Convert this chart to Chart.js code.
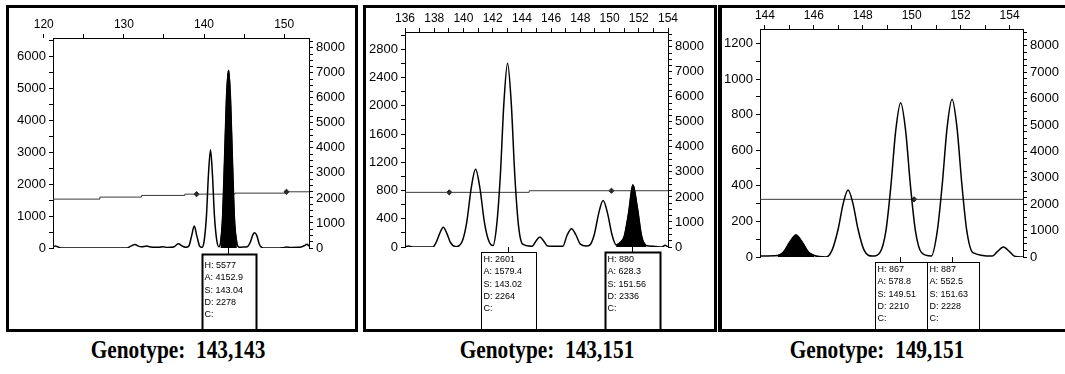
<!DOCTYPE html>
<html>
<head>
<meta charset="utf-8">
<script src="https://cdn.jsdelivr.net/npm/chart.js@4.4.0/dist/chart.umd.min.js"></script>
<style>
  html, body { margin: 0; padding: 0; background: #fff; width: 1065px; height: 374px; overflow: hidden; }
  .panel { position: absolute; top: 5px; height: 327px; border: 3px solid #000; box-sizing: border-box; background: #fff; }
  .panel canvas { display: block; }
  .caption { position: absolute; top: 335px; font-family: "Liberation Serif", "Times New Roman", serif; font-weight: bold;
             font-size: 26px; white-space: nowrap; color: #000; transform: translateX(-50%) scaleX(0.82); }
</style>
</head>
<body>
<div class="panel" style="left:6px;width:352px;"><canvas id="c1" width="346" height="321"></canvas></div>
<div class="panel" style="left:363px;width:354px;"><canvas id="c2" width="348" height="321"></canvas></div>
<div class="panel" style="left:718px;width:352px;border-left-width:4px;"><canvas id="c3" width="345" height="321"></canvas></div>
<div class="caption" style="left:178px;">Genotype:&nbsp; 143,143</div>
<div class="caption" style="left:547px;">Genotype:&nbsp; 143,151</div>
<div class="caption" style="left:877px;">Genotype:&nbsp; 149,151</div>

<script>
// ---- panel 1 : genotype 143,143 ----
const p1Size = [121.15, 121.45, 121.8, 122.3, 130.3, 130.8, 131.38, 131.8, 132.2, 132.84,
  133.3, 134.3, 134.91, 135.4, 136.2, 136.78, 137.3, 137.7, 138.1, 138.45,
  138.78, 139.1, 139.45, 139.75, 140.0, 140.3, 140.55, 140.81, 141.05, 141.3,
  141.6, 141.85, 142.05, 142.3, 142.55, 142.8, 143.06, 143.3, 143.55, 143.8,
  144.1, 144.4, 144.8, 145.4, 145.8, 146.1, 146.34, 146.6, 146.9, 147.2,
  147.6, 149.8, 150.3, 150.8, 151.9, 152.5, 152.85, 153.1];
const p1Rfu = [30, 60, 30, 0, 0, 50, 110, 60, 40, 60,
  30, 20, 40, 15, 30, 130, 60, 20, 60, 380,
  690, 380, 60, 20, 200, 1000, 2300, 3080, 2300, 1000,
  220, 40, 150, 900, 2700, 4700, 5577, 4700, 2700, 900,
  150, 20, 30, 40, 200, 420, 480, 380, 120, 20,
  0, 10, 30, 15, 20, 70, 120, 60];
const p1Fill = [142.05, 144.1];
const p1ThreshSize = [121.15, 127.0, 132.2, 137.6, 143.85, 150.3, 153.1];
const p1ThreshRfu = [1534, 1597, 1649, 1690, 1722, 1764, 1764];
const p1MarkSize = [139.07, 150.29];
const p1MarkRfu = [1690, 1764];
const p1XTicks = [120, 125, 130, 135, 140, 145, 150];
const p1LeftLabels = [0, 1000, 2000, 3000, 4000, 5000, 6000];
const p1RightLabels = [0, 1000, 2000, 3000, 4000, 5000, 6000, 7000, 8000];
const p1CallSize = [143.04];
const p1CallText = [['H: 5577', 'A: 4152.9', 'S: 143.04', 'D: 2278', 'C:']];

// ---- panel 2 : genotype 143,151 ----
const p2Size = [136.0, 136.25, 136.5, 137.9, 138.12, 138.37, 138.62, 138.87, 139.12, 139.5,
  139.93, 140.23, 140.53, 140.83, 141.13, 141.43, 141.73, 142.02, 142.27, 142.52,
  142.77, 143.02, 143.27, 143.52, 143.77, 144.05, 144.7, 144.98, 145.23, 145.48,
  145.75, 146.8, 147.1, 147.4, 147.7, 148.0, 148.4, 148.66, 148.96, 149.26,
  149.56, 149.86, 150.16, 150.45, 150.7, 151.0, 151.3, 151.6, 151.9, 152.2,
  152.5, 153.0, 153.6, 153.8, 154.0];
const p2Rfu = [0, 15, 0, 0, 60, 190, 281, 190, 60, 5,
  88, 357, 832, 1102, 832, 357, 88, 20, 300, 995,
  2045, 2601, 2045, 995, 300, 40, 10, 90, 141, 90,
  15, 10, 170, 258, 170, 40, 15, 30, 180, 480,
  657, 480, 180, 30, 60, 150, 480, 880, 560, 150,
  20, 10, 0, 25, 0];
const p2Fill = [150.45, 152.5];
const p2ThreshSize = [136.0, 144.5, 154.0];
const p2ThreshRfu = [774, 797, 797];
const p2MarkSize = [139.03, 150.13];
const p2MarkRfu = [774, 797];
const p2XTicks = [136, 137, 138, 139, 140, 141, 142, 143, 144, 145, 146, 147, 148, 149, 150, 151, 152, 153, 154];
const p2LeftLabels = [0, 400, 800, 1200, 1600, 2000, 2400, 2800];
const p2RightLabels = [0, 1000, 2000, 3000, 4000, 5000, 6000, 7000, 8000];
const p2CallSize = [143.02, 151.56];
const p2CallText = [['H: 2601', 'A: 1579.4', 'S: 143.02', 'D: 2264', 'C:'],
                    ['H: 880', 'A: 628.3', 'S: 151.56', 'D: 2336', 'C:']];

// ---- panel 3 : genotype 149,151 ----
const p3Size = [143.8, 144.52, 144.77, 145.02, 145.27, 145.52, 145.77, 146.02, 146.5, 146.75,
  147.0, 147.2, 147.4, 147.6, 147.8, 148.05, 148.4, 148.7, 148.95, 149.15,
  149.35, 149.55, 149.75, 149.95, 150.15, 150.4, 150.8, 151.05, 151.25, 151.45,
  151.65, 151.85, 152.05, 152.25, 152.5, 153.3, 153.5, 153.75, 154.0, 154.2, 154.55];
const p3Rfu = [5, 8, 30, 85, 124, 85, 30, 8, 0, 40,
  160, 300, 376, 300, 160, 40, 5, 25, 150, 400,
  713, 867, 713, 400, 150, 25, 5, 150, 410, 730,
  887, 730, 410, 150, 25, 5, 30, 56, 30, 5, 0];
const p3Fill = [144.52, 146.02];
const p3ThreshSize = [143.8, 154.55];
const p3ThreshRfu = [324, 324];
const p3MarkSize = [150.1];
const p3MarkRfu = [324];
const p3XTicks = [144, 145, 146, 147, 148, 149, 150, 151, 152, 153, 154];
const p3LeftLabels = [0, 200, 400, 600, 800, 1000, 1200];
const p3RightLabels = [0, 1000, 2000, 3000, 4000, 5000, 6000, 7000, 8000];
const p3CallSize = [149.51, 151.63];
const p3CallText = [['H: 867', 'A: 578.8', 'S: 149.51', 'D: 2210', 'C:'],
                    ['H: 887', 'A: 552.5', 'S: 151.63', 'D: 2228', 'C:']];

const FONT = '"Liberation Sans", Arial, sans-serif';

function stepTicks(max, step) {
  const out = [];
  for (let v = 0; v <= max + 1e-6; v += step) out.push({ value: v });
  return out;
}

// peak call boxes hanging under the baseline
const callBoxes = {
  id: 'callBoxes',
  afterDraw(chart, args, o) {
    const ctx = chart.ctx, xs = chart.scales.x, area = chart.chartArea;
    ctx.save();
    o.sizes.forEach((s, i) => {
      const cx = Math.round(xs.getPixelForValue(s)) + 0.5;
      const left = Math.round(cx - o.width / 2) + 0.5;
      const top = Math.round(area.bottom + o.gap) + 0.5;
      ctx.strokeStyle = '#000';
      ctx.lineWidth = 1;
      ctx.beginPath();
      ctx.moveTo(cx, area.bottom);
      ctx.lineTo(cx, top);
      ctx.stroke();
      ctx.lineWidth = o.lineWidth[i];
      ctx.strokeRect(left, top, o.width, chart.height - top + 5);
      ctx.fillStyle = '#000';
      ctx.font = '9px ' + FONT;
      ctx.textBaseline = 'middle';
      o.text[i].forEach((t, j) => ctx.fillText(t, left + 2, top + o.textTop + j * 12.3));
    });
    ctx.restore();
  }
};

function makePanel(id, p) {
  const pts = p.size.map((s, i) => ({ x: s, y: p.rfu[i] }));
  const filled = pts.filter(d => d.x >= p.fill[0] && d.x <= p.fill[1]);
  const thresh = p.threshSize.map((s, i) => ({ x: s, y: p.threshRfu[i] }));
  const marks = p.markSize.map((s, i) => ({ x: s, y: p.markRfu[i] }));
  const tickFont = { family: FONT, size: 13 };
  const axisGrid = { drawOnChartArea: false, drawTicks: true, tickLength: 4, color: '#000' };
  const axisBorder = { display: true, color: '#000', width: 1 };

  new Chart(document.getElementById(id), {
    type: 'line',
    data: {
      datasets: [
        { data: filled, yAxisID: 'y', fill: 'origin', backgroundColor: '#000', borderColor: '#000',
          borderWidth: 1, pointRadius: 0, cubicInterpolationMode: 'monotone' },
        { data: pts, yAxisID: 'y', borderColor: '#000', borderWidth: 1.5, pointRadius: 0,
          fill: false, cubicInterpolationMode: 'monotone' },
        { data: thresh, yAxisID: 'y', stepped: true, borderColor: '#3a3a3a', borderWidth: 1,
          pointRadius: 0, fill: false },
        { data: marks, yAxisID: 'y', showLine: false, pointStyle: 'rectRot', pointRadius: 2.6,
          backgroundColor: '#222', borderColor: '#222' }
      ]
    },
    options: {
      responsive: false,
      animation: false,
      events: [],
      layout: { padding: { left: 0, right: 0, top: 0, bottom: p.padB } },
      plugins: {
        legend: { display: false },
        tooltip: { enabled: false },
        callBoxes: { sizes: p.callSize, text: p.callText, width: p.boxW, gap: p.boxGap,
                     textTop: p.textTop, lineWidth: p.boxLine }
      },
      scales: {
        x: {
          type: 'linear', position: 'top', min: p.xMin, max: p.xMax,
          afterBuildTicks: s => { s.ticks = p.xTicks.map(v => ({ value: v })); },
          afterFit: s => { s.height = p.topH; },
          ticks: { autoSkip: false, maxRotation: 0, padding: 2, color: '#000',
                   font: { family: FONT, size: 12 },
                   callback: v => (Math.round(v) % p.xLabelStep === 0 ? String(v) : '') },
          grid: axisGrid, border: axisBorder
        },
        y: {
          position: 'left', min: 0, max: p.leftMax,
          afterBuildTicks: s => { s.ticks = stepTicks(p.leftMax, p.leftStep); },
          afterFit: s => { s.width = p.leftW; },
          ticks: { autoSkip: false, padding: 3, color: '#000', font: tickFont,
                   callback: v => (p.leftLabels.includes(v) ? String(v) : '') },
          grid: axisGrid, border: axisBorder
        },
        y1: {
          position: 'right', min: 0, max: p.rightMax,
          afterBuildTicks: s => { s.ticks = stepTicks(p.rightMax, 250); },
          afterFit: s => { s.width = p.rightW; },
          ticks: { autoSkip: false, padding: 3, color: '#000', font: tickFont,
                   callback: v => (p.rightLabels.includes(v) ? String(v) : '') },
          grid: axisGrid, border: axisBorder
        }
      }
    },
    plugins: [callBoxes]
  });
}

makePanel('c1', {
  size: p1Size, rfu: p1Rfu, fill: p1Fill, threshSize: p1ThreshSize, threshRfu: p1ThreshRfu,
  markSize: p1MarkSize, markRfu: p1MarkRfu, xTicks: p1XTicks, xLabelStep: 10,
  xMin: 121.15, xMax: 153.1, leftMax: 6590, leftStep: 500, leftLabels: p1LeftLabels,
  rightMax: 8390, rightLabels: p1RightLabels, callSize: p1CallSize, callText: p1CallText,
  leftW: 44, rightW: 46, topH: 30, padB: 81, boxW: 54, boxGap: 6, textTop: 11, boxLine: [2]
});
makePanel('c2', {
  size: p2Size, rfu: p2Rfu, fill: p2Fill, threshSize: p2ThreshSize, threshRfu: p2ThreshRfu,
  markSize: p2MarkSize, markRfu: p2MarkRfu, xTicks: p2XTicks, xLabelStep: 2,
  xMin: 136, xMax: 154, leftMax: 3045, leftStep: 200, leftLabels: p2LeftLabels,
  rightMax: 8590, rightLabels: p2RightLabels, callSize: p2CallSize, callText: p2CallText,
  leftW: 39, rightW: 46, topH: 24, padB: 82, boxW: 55, boxGap: 5, textTop: 7, boxLine: [1, 2]
});
makePanel('c3', {
  size: p3Size, rfu: p3Rfu, fill: p3Fill, threshSize: p3ThreshSize, threshRfu: p3ThreshRfu,
  markSize: p3MarkSize, markRfu: p3MarkRfu, xTicks: p3XTicks, xLabelStep: 2,
  xMin: 143.8, xMax: 154.55, leftMax: 1281, leftStep: 100, leftLabels: p3LeftLabels,
  rightMax: 8640, rightLabels: p3RightLabels, callSize: p3CallSize, callText: p3CallText,
  leftW: 38, rightW: 44, topH: 21, padB: 72, boxW: 52, boxGap: 5, textTop: 7, boxLine: [1, 1]
});
</script>
</body>
</html>
